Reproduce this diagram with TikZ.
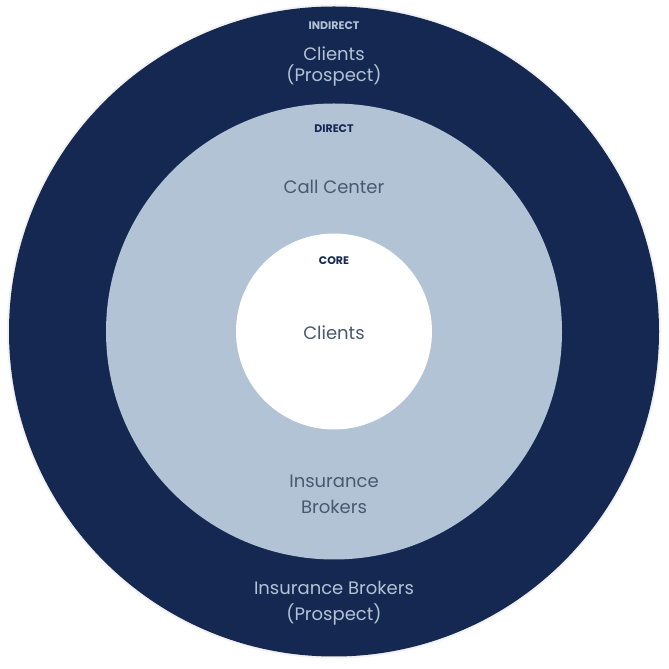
\documentclass[tikz,border=0pt]{standalone}
\usepackage{fontspec}
\setmainfont{Poppins}
\definecolor{navy}{RGB}{21,40,82}
\definecolor{paleblue}{RGB}{178,195,214}
\definecolor{slate}{RGB}{74,88,110}
\tikzset{
  tag/.style={font=\fontsize{11}{13}\selectfont\bfseries},
  ring/.style={font=\fontsize{18}{21}\selectfont, align=center},
}
\begin{document}
\begin{tikzpicture}[x=1pt,y=1pt]
    \useasboundingbox (0,0) rectangle (669,669);
    \coordinate (c) at (334,337.5);
    \fill [black!5] (c) circle (327);
    \fill [navy] (c) circle (325);
    \fill [paleblue] (c) circle (228);
    \fill [white] (c) circle (98);
    % outer ring
    \node [tag,paleblue] (indirect) at (334,643) {INDIRECT};
    \node [ring,paleblue] (prospect) at (334,603) {Clients\\(Prospect)};
    \node [ring,paleblue,font=\fontsize{18}{26}\selectfont] (brokersp) at (334,66) {Insurance Brokers\\(Prospect)};
    % middle ring
    \node [tag,navy] (direct) at (334,540) {DIRECT};
    \node [ring,slate] (callcenter) at (334,482) {Call Center};
    \node [ring,slate,font=\fontsize{18}{26}\selectfont] (brokers) at (334,175) {Insurance\\Brokers};
    % core
    \node [tag,navy] (core) at (334,408) {CORE};
    \node [ring,slate] (clients) at (334,336) {Clients};
\end{tikzpicture}
\end{document}
